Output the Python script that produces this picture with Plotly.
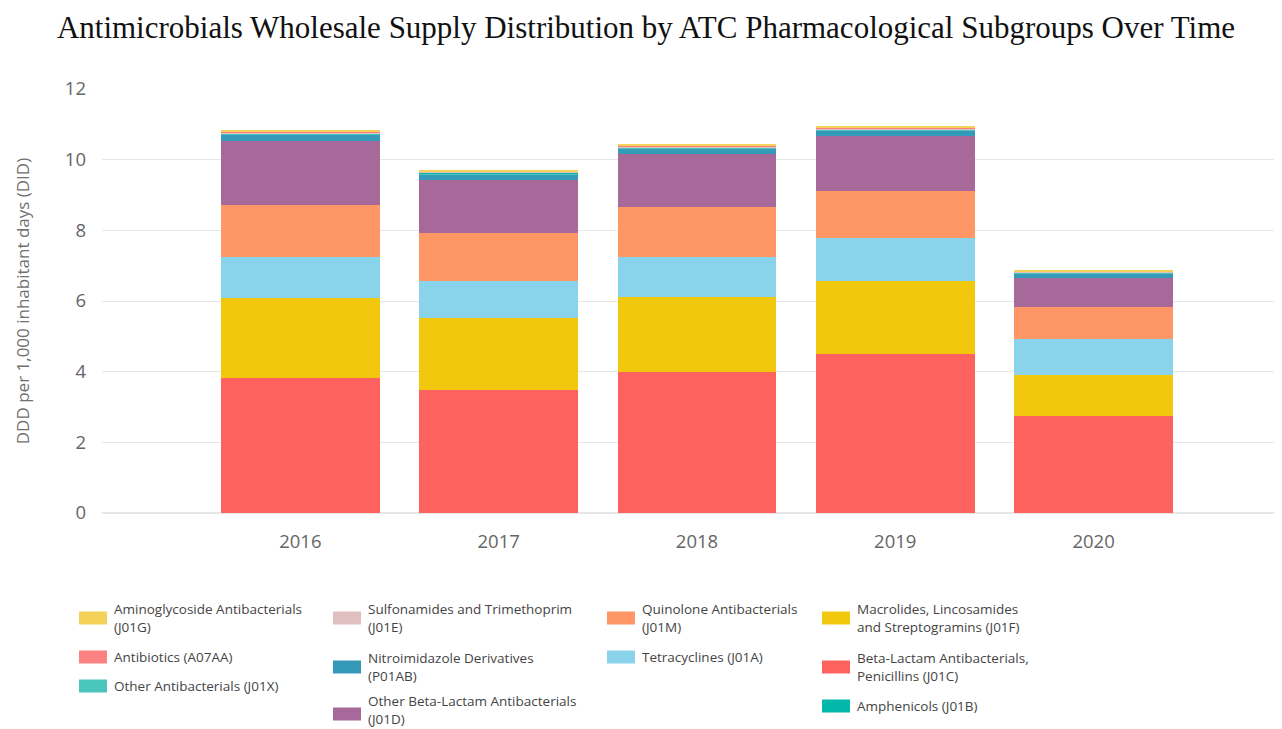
import plotly.graph_objects as go

years = ["2016", "2017", "2018", "2019", "2020"]

# series (bottom to top of the stack)
j01c = [3.82, 3.48, 3.99, 4.50, 2.75]   # Beta-Lactam Antibacterials, Penicillins
j01f = [2.27, 2.04, 2.12, 2.07, 1.16]   # Macrolides, Lincosamides and Streptogramins
j01a = [1.16, 1.05, 1.14, 1.21, 1.01]   # Tetracyclines
j01m = [1.47, 1.36, 1.41, 1.33, 0.91]   # Quinolone Antibacterials
j01d = [1.81, 1.50, 1.50, 1.56, 0.82]   # Other Beta-Lactam Antibacterials
p01ab = [0.17, 0.15, 0.15, 0.15, 0.12]  # Nitroimidazole Derivatives
j01x = [0.03, 0.04, 0.03, 0.03, 0.03]   # Other Antibacterials
j01b = [0.005, 0.005, 0.005, 0.005, 0.005]  # Amphenicols
j01e = [0.03, 0.03, 0.03, 0.03, 0.02]   # Sulfonamides and Trimethoprim
a07aa = [0.02, 0.02, 0.02, 0.02, 0.01]  # Antibiotics
j01g = [0.03, 0.04, 0.03, 0.04, 0.03]   # Aminoglycoside Antibacterials

names = {
    "j01c": "Beta-Lactam Antibacterials,<br>Penicillins (J01C)",
    "j01f": "Macrolides, Lincosamides<br>and Streptogramins (J01F)",
    "j01a": "Tetracyclines (J01A)",
    "j01m": "Quinolone Antibacterials<br>(J01M)",
    "j01d": "Other Beta-Lactam Antibacterials<br>(J01D)",
    "p01ab": "Nitroimidazole Derivatives<br>(P01AB)",
    "j01x": "Other Antibacterials (J01X)",
    "j01b": "Amphenicols (J01B)",
    "j01e": "Sulfonamides and Trimethoprim<br>(J01E)",
    "a07aa": "Antibiotics (A07AA)",
    "j01g": "Aminoglycoside Antibacterials<br>(J01G)",
}
colors = {
    "j01c": "#FD625E",
    "j01f": "#F2C80F",
    "j01a": "#8AD4EB",
    "j01m": "#FE9666",
    "j01d": "#A66999",
    "p01ab": "#3599B8",
    "j01x": "#4AC5BB",
    "j01b": "#01B8AA",
    "j01e": "#DFBFBF",
    "a07aa": "#FB8281",
    "j01g": "#F4D25A",
}
series = [("j01c", j01c), ("j01f", j01f), ("j01a", j01a), ("j01m", j01m),
          ("j01d", j01d), ("p01ab", p01ab), ("j01x", j01x), ("j01b", j01b),
          ("j01e", j01e), ("a07aa", a07aa), ("j01g", j01g)]

OFF = 8  # page body margin
W, H = 1282 - OFF, 729 - OFF
L, R, T = 102 - OFF, 0, 89 - OFF
B = H - (513 - OFF)

fig = go.Figure()
for key, vals in series:
    fig.add_trace(go.Bar(x=years, y=vals, name=names[key].replace("<br>", " "),
                         marker=dict(color=colors[key], line=dict(width=0)),
                         width=0.8, showlegend=False))

def px_x(px):
    return (px - OFF - L) / (W - L - R)

def px_y(py):
    return (H - B - (py - OFF)) / (H - T - B)

# legend layout: (key, swatch-left px, text center px) in page pixels
legend_items = [
    ("j01g", 79, 618), ("a07aa", 79, 657), ("j01x", 79, 686),
    ("j01e", 333, 618), ("p01ab", 333, 667), ("j01d", 333, 710),
    ("j01m", 607, 618), ("j01a", 607, 657),
    ("j01f", 822, 618), ("j01c", 822, 667), ("j01b", 822, 706),
]
shapes = []
annotations = []
for key, sx, cy in legend_items:
    sy = cy + 4 if key == "j01d" else cy
    shapes.append(dict(type="rect", xref="paper", yref="paper",
                       x0=px_x(sx), x1=px_x(sx + 28), y0=px_y(sy + 6.5), y1=px_y(sy - 6.5),
                       fillcolor=colors[key], line=dict(width=0)))
    annotations.append(dict(x=px_x(sx + 33), y=px_y(cy), xref="paper", yref="paper",
                            text=names[key], showarrow=False, xanchor="left", yanchor="middle",
                            align="left", font=dict(family="Open Sans", size=13.5, color="#444444")))

fig.update_layout(
    width=W, height=H,
    margin=dict(l=L, r=R, t=T, b=B, pad=0),
    barmode="stack",
    paper_bgcolor="white", plot_bgcolor="white",
    title=dict(text="Antimicrobials Wholesale Supply Distribution by ATC Pharmacological Subgroups Over Time",
               x=0.5 + 1 / W, xanchor="center", y=1 - (27 - OFF) / H, yanchor="middle",
               font=dict(family="Liberation Serif", size=31, color="#111111")),
    xaxis=dict(range=[-1, 4.95], showgrid=False, showline=False, zeroline=False,
               tickfont=dict(family="Open Sans", size=18.5, color="#666666"),
               ticklabelstandoff=15),
    yaxis=dict(range=[0, 12], dtick=2, showgrid=True, gridcolor="#E6E6E6", gridwidth=1,
               zeroline=True, zerolinecolor="#E6E6E6", showline=False,
               tickfont=dict(family="Open Sans", size=18.5, color="#666666"),
               ticklabelstandoff=15,
               title=dict(text="DDD per 1,000 inhabitant days (DID)", standoff=30,
                          font=dict(family="Open Sans", size=17, color="#707070"))),
    shapes=shapes, annotations=annotations,
    bargap=0.2,
)

fig.write_html("out.html")
